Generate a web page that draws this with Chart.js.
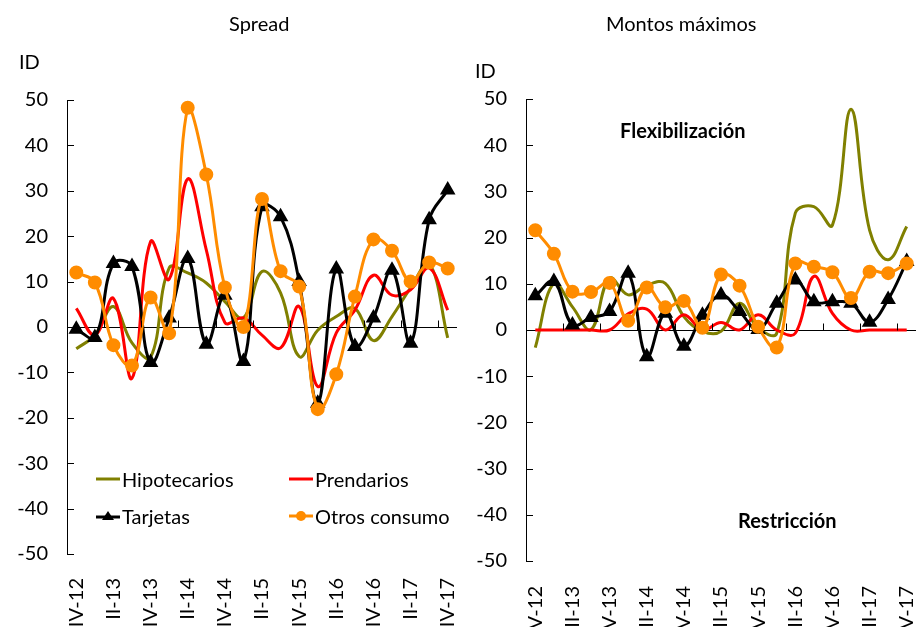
<!DOCTYPE html>
<html>
<head>
<meta charset="utf-8">
<script src="https://cdn.jsdelivr.net/npm/chart.js@4/dist/chart.umd.min.js"></script>
<style>
  body { margin: 0; background: #fff; font-family: Lato, sans-serif; color: #000; }
  #wrap { position: relative; width: 916px; height: 627px; overflow: hidden; }
  canvas { position: absolute; top: 0; }
  .txt { position: absolute; font-size: 20px; white-space: nowrap; }
  .bold { font-weight: bold; }
  .leg { position: absolute; font-size: 20px; display: flex; align-items: center; white-space: nowrap; }
  .leg svg { margin-right: 2px; }
</style>
</head>
<body>
<div id="wrap">
  <canvas id="spread" width="460" height="627" style="left:0"></canvas>
  <canvas id="montos" width="456" height="627" style="left:460px"></canvas>

  <div class="txt" style="left:229px; top:11px;">Spread</div>
  <div class="txt" style="left:606px; top:11px;">Montos máximos</div>
  <div class="txt" style="left:19px; top:49px;">ID</div>
  <div class="txt" style="left:475px; top:58px;">ID</div>
  <div class="txt bold" style="left:620px; top:118px;">Flexibilización</div>
  <div class="txt bold" style="left:738px; top:508px;">Restricción</div>

  <div class="leg" style="left:96px; top:467px;">
    <svg width="24" height="10"><line x1="0" y1="5" x2="24" y2="5" stroke="#808000" stroke-width="3"/></svg>Hipotecarios</div>
  <div class="leg" style="left:289px; top:467px;">
    <svg width="24" height="10"><line x1="0" y1="5" x2="24" y2="5" stroke="#ff0000" stroke-width="3"/></svg>Prendarios</div>
  <div class="leg" style="left:96px; top:504px;">
    <svg width="24" height="14"><line x1="0" y1="8" x2="24" y2="8" stroke="#000" stroke-width="3"/><polygon points="12,2 18,11 6,11" fill="#000"/></svg>Tarjetas</div>
  <div class="leg" style="left:289px; top:504px;">
    <svg width="24" height="14"><line x1="0" y1="7" x2="24" y2="7" stroke="#ff8c00" stroke-width="3"/><circle cx="12" cy="7" r="5" fill="#ff8c00"/></svg>Otros consumo</div>
</div>

<script>
// quarters IV-12 .. IV-17, only every second one is labelled
const quarters = ['IV-12','I-13','II-13','III-13','IV-13','I-14','II-14','III-14','IV-14',
  'I-15','II-15','III-15','IV-15','I-16','II-16','III-16','IV-16','I-17','II-17','III-17','IV-17'];
const yTicks = [-50, -40, -30, -20, -10, 0, 10, 20, 30, 40, 50];

// Spread
const hipSpread = [-4.8, -1.8, 4.5, -3.5, -6.7, 13, 11.9, 9.7, 5.6, 2, 12.2, 7.5, -6.5, -0.7, 2.3, 4.1, -3, 2.3, 8.6, 14, -2.4];
const prendSpread = [4.1, -1.8, 6.3, -11.3, 18.8, 10.5, 32.6, 17, 1, 2, -1.8, -4.6, 4.5, -13.1, -1.3, 3.7, 11.4, 7, 8.2, 13, 3.7];
const tarjSpread = [-0.5, -2.3, 14, 13.3, -7.8, 2, 15.1, -3.8, 7, -7.6, 26.5, 24.3, 10, -16.8, 12.8, -4.3, 2, 12.5, -3.6, 23.6, 30.2];
const otrosSpread = [12, 9.8, -4, -8.5, 6.5, -1.4, 48.3, 33.6, 8.7, 0, 28.2, 12.3, 8.9, -18.1, -10.4, 6.7, 19.3, 16.8, 10, 14.2, 12.9];

// Montos maximos
const hipMontos = [-3.8, 10.1, 5, 0.1, 11.2, 7.6, 9.7, 10.1, 2.9, -0.3, -0.3, 5.8, 0.4, -0.7, 25.3, 26.7, 22.7, 47.8, 21.6, 15.2, 22.4];
const prendMontos = [0, 0, 0, 0, 0, 3.5, 4.5, 0, 3.3, 0, 1.6, 0, 3.3, 0, -0.7, 11.6, 3.6, 0, 0, 0, 0];
const tarjMontos = [7.4, 10.5, 1.1, 2.7, 4, 12.3, -5.8, 3.6, -3.5, 3.2, 7.6, 4, 0.1, 5.8, 10.8, 6.1, 6.1, 5.8, 1.7, 6.6, 14.8];
const otrosMontos = [21.6, 16.5, 8.3, 8.2, 10.2, 2, 9.2, 4.9, 6.3, 0.5, 12, 9.6, 0.7, -3.8, 14.4, 13.7, 12.5, 6.9, 12.6, 12.3, 14.4];

Chart.defaults.color = '#000';
Chart.defaults.font.family = 'Lato, sans-serif';

// short inside tick marks on the y axis and on the zero line
const axisTicks = {
  id: 'axisTicks',
  afterDraw(chart) {
    const { ctx, scales: { x, y } } = chart;
    ctx.save();
    ctx.strokeStyle = '#000';
    ctx.lineWidth = 1;
    ctx.beginPath();
    y.ticks.forEach((t, i) => {
      const py = Math.round(y.getPixelForTick(i)) + 0.5;
      ctx.moveTo(x.left, py);
      ctx.lineTo(x.left + 7, py);
    });
    const y0 = Math.round(y.getPixelForValue(0)) + 0.5;
    const step = x.getPixelForValue(1) - x.getPixelForValue(0);
    for (let k = 2; k <= quarters.length; k += 2) {
      const px = Math.round(x.getPixelForValue(0) + (k - 0.5) * step) + 0.5;
      ctx.moveTo(px, y0);
      ctx.lineTo(px, y0 - 7);
    }
    ctx.stroke();
    ctx.restore();
  }
};

function series(label, data, color, marker, order) {
  return {
    label: label,
    data: data,
    borderColor: color,
    backgroundColor: color,
    borderWidth: 3,
    tension: 0.4,
    pointStyle: marker || 'circle',
    pointRadius: marker ? (marker === 'triangle' ? 6 : 5.5) : 0,
    pointHoverRadius: 0,
    order: order
  };
}

function makeChart(id, sets, axisWidth, axisHeight, top, right, labelPad) {
  return new Chart(document.getElementById(id), {
    type: 'line',
    data: { labels: quarters, datasets: sets },
    options: {
      responsive: false,
      animation: false,
      devicePixelRatio: 1,
      layout: { autoPadding: false, padding: { top: top, right: right, left: 0, bottom: 0 } },
      plugins: { legend: { display: false }, tooltip: { enabled: false } },
      scales: {
        x: {
          offset: true,
          grid: { display: false },
          border: { display: false },
          afterFit: s => {
            s.height = axisHeight;
            s.paddingLeft = 0;
            s.paddingRight = 0;
          },
          ticks: {
            autoSkip: false,
            minRotation: 90,
            maxRotation: 90,
            padding: labelPad,
            font: { size: 20 },
            callback: (v, i) => (i % 2 === 0 ? quarters[i] : '')
          }
        },
        y: {
          min: yTicks[0],
          max: yTicks[yTicks.length - 1],
          afterBuildTicks: s => { s.ticks = yTicks.map(v => ({ value: v })); },
          afterFit: s => {
            s.width = axisWidth;
            s.paddingTop = 0;
            s.paddingBottom = 0;
          },
          grid: {
            drawTicks: false,
            color: c => (c.tick && c.tick.value === 0 ? '#000' : 'rgba(0,0,0,0)'),
            lineWidth: 1
          },
          border: { display: true, color: '#000', width: 1 },
          ticks: { padding: 19, font: { size: 20 } }
        }
      }
    },
    plugins: [axisTicks]
  });
}

makeChart('spread', [
  series('Hipotecarios', hipSpread, '#808000', null, 3),
  series('Prendarios', prendSpread, '#ff0000', null, 2),
  series('Tarjetas', tarjSpread, '#000000', 'triangle', 1),
  series('Otros consumo', otrosSpread, '#ff8c00', 'circle', 0)
], 67, 73, 100, 3, 16);

makeChart('montos', [
  series('Hipotecarios', hipMontos, '#808000', null, 3),
  series('Prendarios', prendMontos, '#ff0000', null, 2),
  series('Tarjetas', tarjMontos, '#000000', 'triangle', 1),
  series('Otros consumo', otrosMontos, '#ff8c00', 'circle', 0)
], 66, 66, 99, 0, 17);
</script>
</body>
</html>
